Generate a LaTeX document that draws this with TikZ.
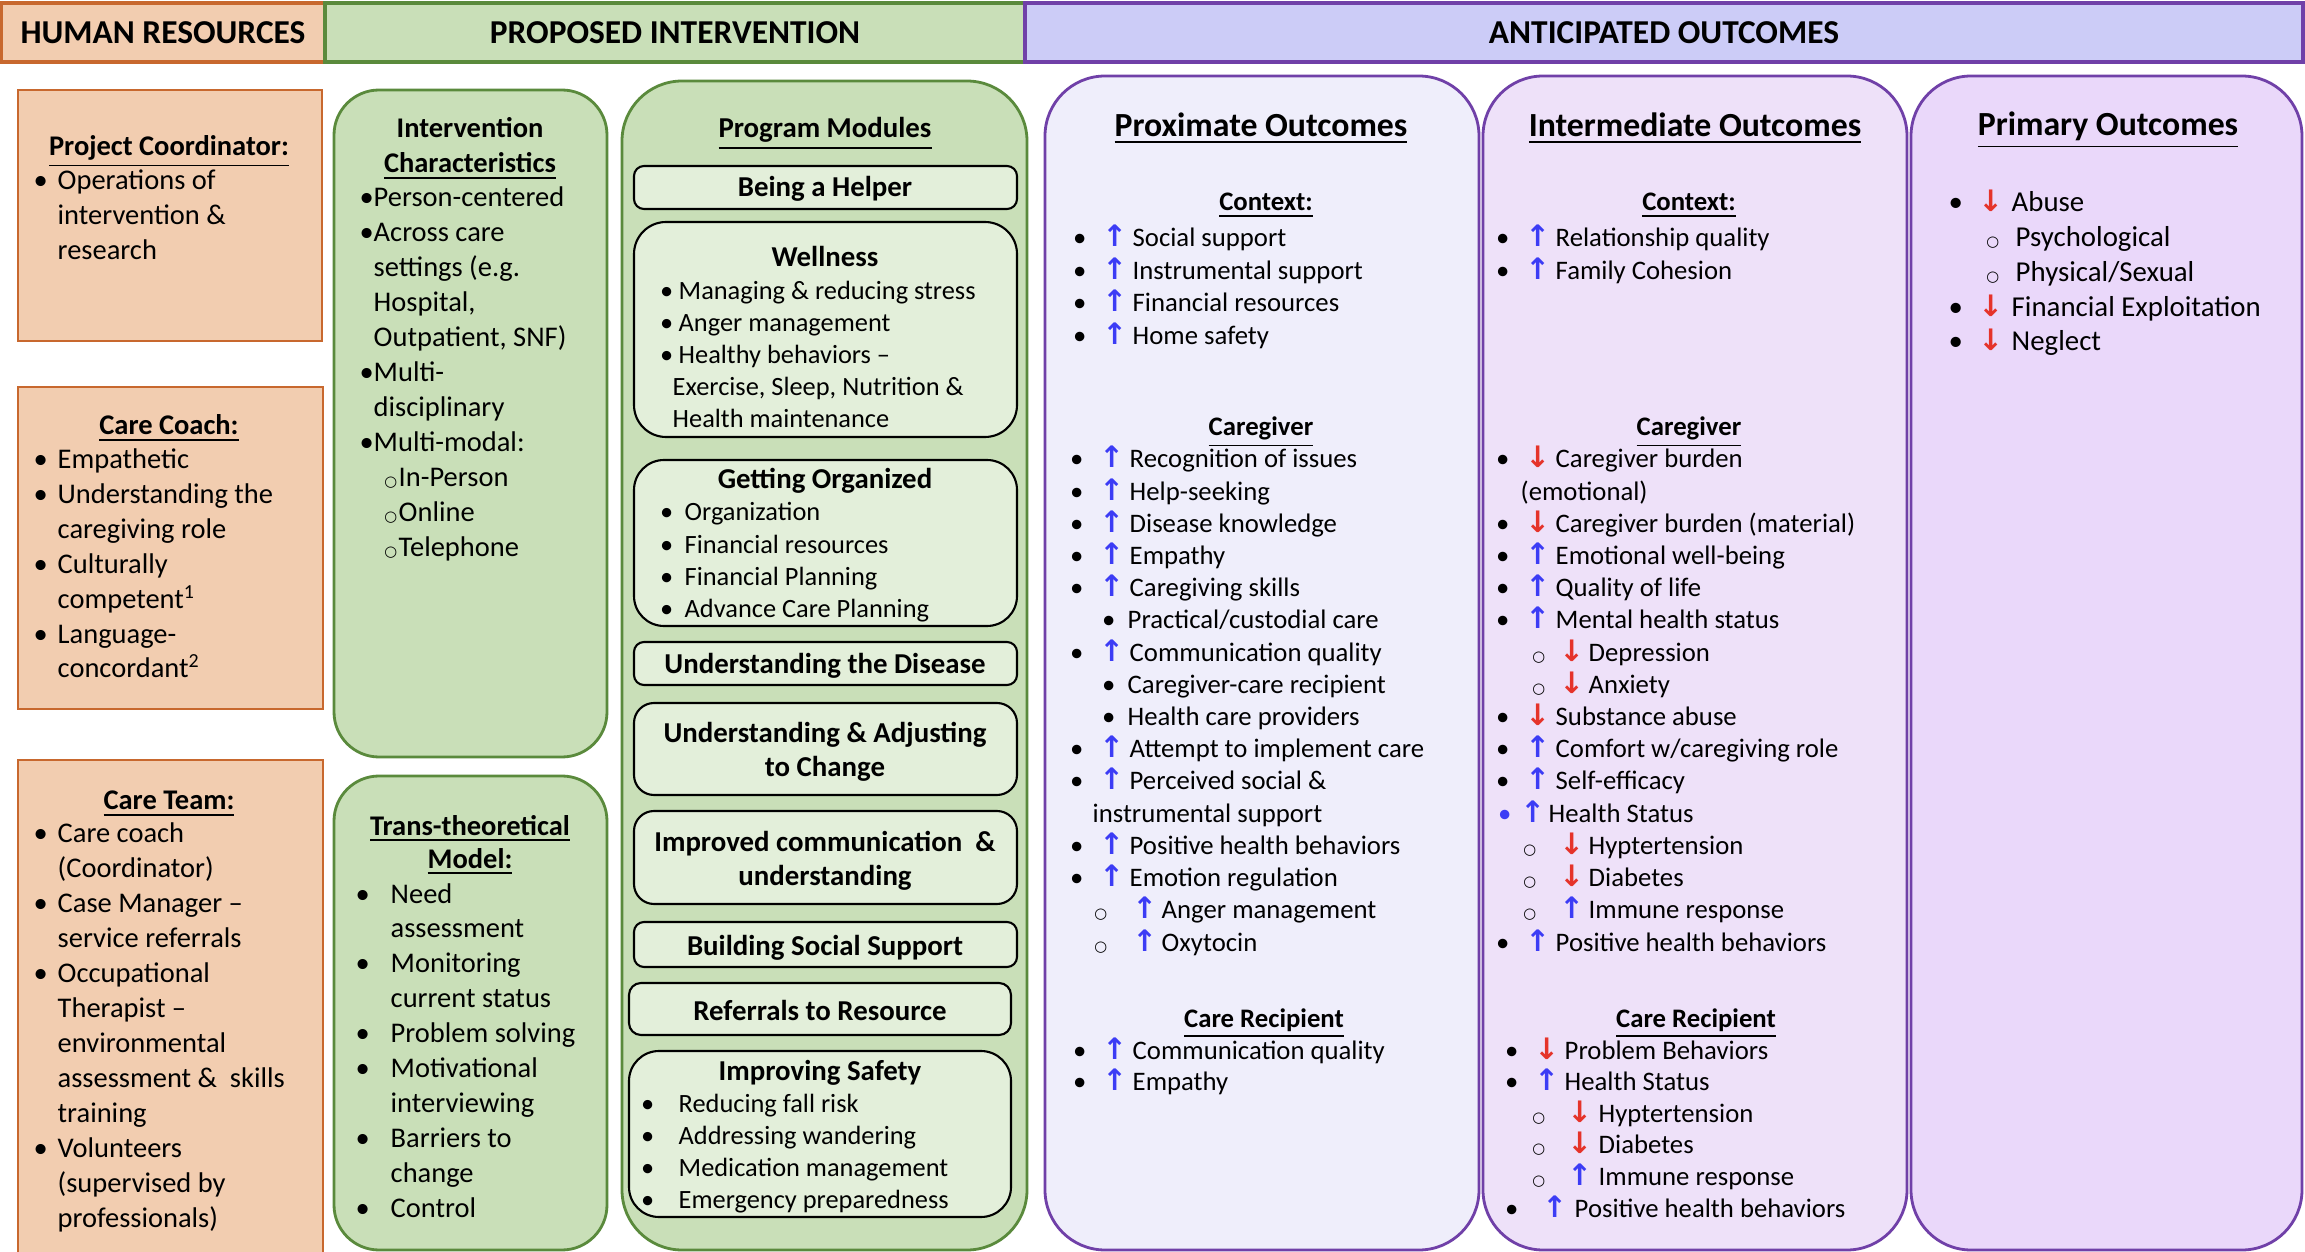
\documentclass[tikz,border=0pt]{standalone}
\usepackage{fontspec}
\setmainfont{Carlito}
\newfontfamily\arrowfont{DejaVu Sans}
\usetikzlibrary{fit}
\definecolor{peach}{HTML}{F2CDB0}
\definecolor{peachline}{HTML}{C8682E}
\definecolor{grn}{HTML}{C9DFB8}
\definecolor{grnline}{HTML}{5A8A3C}
\definecolor{grnin}{HTML}{E3EFDA}
\definecolor{lav}{HTML}{CCCCF7}
\definecolor{purp}{HTML}{7040A8}
\definecolor{proxf}{HTML}{EFEEFB}
\definecolor{interf}{HTML}{EEE1F9}
\definecolor{primf}{HTML}{EAD8FA}
\definecolor{upc}{HTML}{3C3CF5}
\definecolor{dnc}{HTML}{E5332A}
\newcommand\UA{{\arrowfont\bfseries\fontsize{8.4}{9}\selectfont\color{upc}↑}}
\newcommand\DA{{\arrowfont\bfseries\fontsize{8.4}{9}\selectfont\color{dnc}↓}}
\newcommand\oc{{\arrowfont\fontsize{4.2}{5}\selectfont ○}}
\newcommand\hb[2]{\llap{\makebox[0pt][c]{#1}\hspace{#2}}}
\newcommand\hba[4]{\llap{\makebox[0pt][c]{#1}\hspace{\dimexpr#2-#4\relax}\makebox[0pt][c]{#3}\hspace{#4}}}
\newcommand\bU{\hba{\textbullet}{0.53cm}{\UA}{0.18cm}}
\newcommand\bD{\hba{\textbullet}{0.53cm}{\DA}{0.18cm}}
\tikzset{
  hdrbox/.style={draw, line width=0.9pt, inner sep=0pt},
  hrbox/.style={draw=peachline, fill=peach, line width=0.8pt, inner sep=0pt},
  gbox/.style={draw=grnline, fill=grn, line width=0.8pt, inner sep=0pt},
  mbox/.style={draw=black, fill=grnin, line width=0.6pt, inner sep=0pt},
  obox/.style={draw=purp, line width=0.8pt, inner sep=0pt, rounded corners=0.6cm},
  hdr/.style={font=\fontsize{9.5}{11}\selectfont\bfseries, inner sep=0pt},
  hrt/.style={font=\fontsize{8.1}{9.8}\selectfont, inner sep=0pt, anchor=base west},
  hrtitle/.style={font=\fontsize{8.1}{9.8}\selectfont\bfseries, inner sep=0pt, anchor=base},
  modt/.style={font=\fontsize{8.2}{9.8}\selectfont\bfseries, inner sep=0pt, anchor=base},
  mod/.style={font=\fontsize{7.5}{9}\selectfont, inner sep=0pt, anchor=base west},
  octitle/.style={font=\fontsize{9.6}{11}\selectfont\bfseries, inner sep=0pt, anchor=base},
  ocsub/.style={font=\fontsize{7.6}{9}\selectfont\bfseries, inner sep=0pt, anchor=base},
  oc/.style={font=\fontsize{7.6}{9}\selectfont, inner sep=0pt, anchor=base west},
  pr/.style={font=\fontsize{8.2}{9.8}\selectfont, inner sep=0pt, anchor=base west}
}
\begin{document}
\begin{tikzpicture}[x=0.01cm, y=-0.01cm]
\useasboundingbox (0,0) rectangle (2305,1252);
\fill[white] (0,0) rectangle (2305,1252);

% ---------- header ----------
\node[hdrbox, draw=peachline, fill=peach, fit={(1,3) (325,62)}] (hrh) {};
\node[hdrbox, draw=grnline, fill=grn, fit={(325,3) (1025,62)}] (pih) {};
\node[hdrbox, draw=purp, fill=lav, fit={(1025,3) (2303,62)}] (aoh) {};
\node[hdr] (hrht) at (hrh.center) {HUMAN RESOURCES};
\node[hdr] (piht) at (pih.center) {PROPOSED INTERVENTION};
\node[hdr] (aoht) at (aoh.center) {ANTICIPATED OUTCOMES};

% ---------- human resources ----------
\node[hrbox, fit={(18,90) (322,341)}] (pcbox) {};
\node[hrbox, fit={(18,387) (323,709)}] (ccbox) {};
\node[hrbox, fit={(18,760) (323,1290)}] (ctbox) {};

\node[hrtitle] (pct) at (169,156) {\underline{Project Coordinator:}};
\foreach \t [count=\i] in {{\hb{\textbullet}{0.17cm}Operations of},{intervention \&},{research}}
  \node[hrt] (pc\i) at (57,{190+34.8*(\i-1)}) {\t};

\node[hrtitle] (cct) at (169,435) {\underline{Care Coach:}};
\foreach \t [count=\i] in {{\hb{\textbullet}{0.17cm}Empathetic},{\hb{\textbullet}{0.17cm}Understanding the},{caregiving role},{\hb{\textbullet}{0.17cm}Culturally},{competent\textsuperscript{1}},{\hb{\textbullet}{0.17cm}Language-},{concordant\textsuperscript{2}}}
  \node[hrt] (cc\i) at (57,{469+34.8*(\i-1)}) {\t};

\node[hrtitle] (ctt) at (169,810) {\underline{Care Team:}};
\foreach \t [count=\i] in {{\hb{\textbullet}{0.17cm}Care coach},{(Coordinator)},{\hb{\textbullet}{0.17cm}Case Manager --},{service referrals},{\hb{\textbullet}{0.17cm}Occupational},{Therapist --},{environmental},{assessment \&\ \ skills},{training},{\hb{\textbullet}{0.17cm}Volunteers},{(supervised by},{professionals)}}
  \node[hrt] (ct\i) at (57,{842+35*(\i-1)}) {\t};

% ---------- intervention ----------
\node[gbox, rounded corners=0.45cm, fit={(334,90) (607,757)}] (icbox) {};
\node[gbox, rounded corners=0.45cm, fit={(334,776) (607,1250)}] (ttbox) {};
\node[gbox, rounded corners=0.6cm, fit={(622,81) (1027,1250)}] (pmbox) {};

\node[hrtitle] (ict1) at (470,138) {Intervention};
\node[hrtitle] (ict2) at (470,173) {\underline{Characteristics}};
\foreach \t [count=\i] in {{\hb{\textbullet}{0.07cm}Person-centered},{\hb{\textbullet}{0.07cm}Across care},{settings (e.g.},{Hospital,},{Outpatient, SNF)},{\hb{\textbullet}{0.07cm}Multi-},{disciplinary},{\hb{\textbullet}{0.07cm}Multi-modal:},{\hspace{0.25cm}\hb{\oc}{0.08cm}In-Person},{\hspace{0.25cm}\hb{\oc}{0.08cm}Online},{\hspace{0.25cm}\hb{\oc}{0.08cm}Telephone}}
  \node[hrt] (ic\i) at (373,{207+35*(\i-1)}) {\t};

\node[hrtitle] (ttt1) at (470,835) {\underline{Trans-theoretical}};
\node[hrtitle] (ttt2) at (470,868) {\underline{Model:}};
\foreach \t [count=\i] in {{\hb{\textbullet}{0.28cm}Need},{assessment},{\hb{\textbullet}{0.28cm}Monitoring},{current status},{\hb{\textbullet}{0.28cm}Problem solving},{\hb{\textbullet}{0.28cm}Motivational},{interviewing},{\hb{\textbullet}{0.28cm}Barriers to},{change},{\hb{\textbullet}{0.28cm}Control}}
  \node[hrt] (tt\i) at (390,{903+34.9*(\i-1)}) {\t};

% program modules
\node[modt] (pmt) at (825,138) {\underline{Program Modules}};
\node[mbox, rounded corners=0.1cm, fit={(634,166) (1017,209)}] (m1) {};
\node[mbox, rounded corners=0.32cm, fit={(634,222) (1017,437)}] (m2) {};
\node[mbox, rounded corners=0.3cm, fit={(634,460) (1017,626)}] (m3) {};
\node[mbox, rounded corners=0.1cm, fit={(634,642) (1017,685)}] (m4) {};
\node[mbox, rounded corners=0.2cm, fit={(634,703) (1017,795)}] (m5) {};
\node[mbox, rounded corners=0.2cm, fit={(634,811) (1017,904)}] (m6) {};
\node[mbox, rounded corners=0.1cm, fit={(634,922) (1017,967)}] (m7) {};
\node[mbox, rounded corners=0.12cm, fit={(629,983) (1011,1035)}] (m8) {};
\node[mbox, rounded corners=0.3cm, fit={(629,1051) (1011,1217)}] (m9) {};

\node[modt] (m1t) at (825,197) {Being a Helper};
\node[modt] (m2t) at (825,267) {Wellness};
\foreach \t [count=\i] in {{\hb{\textbullet}{0.12cm}Managing \& reducing stress},{\hb{\textbullet}{0.12cm}Anger management},{\hb{\textbullet}{0.12cm}Healthy behaviors --},{\hspace{-0.06cm}Exercise, Sleep, Nutrition \&},{\hspace{-0.06cm}Health maintenance}}
  \node[mod] (m2l\i) at (678,{300+32*(\i-1)}) {\t};
\node[modt] (m3t) at (825,489) {Getting Organized};
\foreach \t [count=\i] in {{Organization},{Financial resources},{Financial Planning},{Advance Care Planning}}
  \node[mod] (m3l\i) at (684,{521+32.3*(\i-1)}) {\hb{\textbullet}{0.18cm}\t};
\node[modt] (m4t) at (825,674) {Understanding the Disease};
\node[modt] (m5t1) at (825,742) {Understanding \& Adjusting};
\node[modt] (m5t2) at (825,776) {to Change};
\node[modt] (m6t1) at (825,851) {Improved communication\ \ \&};
\node[modt] (m6t2) at (825,885) {understanding};
\node[modt] (m7t) at (825,955) {Building Social Support};
\node[modt] (m8t) at (820,1020) {Referrals to Resource};
\node[modt] (m9t) at (820,1080) {Improving Safety};
\foreach \t [count=\i] in {{Reducing fall risk},{Addressing wandering},{Medication management},{Emergency preparedness}}
  \node[mod] (m9l\i) at (678,{1112+32*(\i-1)}) {\hb{\textbullet}{0.31cm}\t};

% ---------- outcomes ----------
\node[obox, fill=proxf, fit={(1045,76) (1479,1250)}] (pxbox) {};
\node[obox, fill=interf, fit={(1483,76) (1907,1250)}] (inbox) {};
\node[obox, fill=primf, fit={(1911,76) (2302,1250)}] (prbox) {};

% proximate
\node[octitle] (pxt) at (1261,137) {\underline{Proximate Outcomes}};
\node[ocsub] (pxct) at (1266,211) {\underline{Context:}};
\foreach \t [count=\i] in {{Social support},{Instrumental support},{Financial resources},{Home safety}}
  \node[oc] (pxc\i) at (1132,{247+32.4*(\i-1)}) {\bU\t};
\node[ocsub] (pxgt) at (1261,436) {\underline{Caregiver}};
\foreach \t [count=\i] in {{\bU Recognition of issues},{\bU Help-seeking},{\bU Disease knowledge},{\bU Empathy},{\bU Caregiving skills},{\hspace{-0.02cm}\hb{\textbullet}{0.19cm}Practical/custodial care},{\bU Communication quality},{\hspace{-0.02cm}\hb{\textbullet}{0.19cm}Caregiver-care recipient},{\hspace{-0.02cm}\hb{\textbullet}{0.19cm}Health care providers},{\bU Attempt to implement care},{\bU Perceived social \&},{\hspace{-0.37cm}instrumental support},{\bU Positive health behaviors},{\bU Emotion regulation},{\hspace{0.32cm}\hba{\oc}{0.61cm}{\UA}{0.17cm}Anger management},{\hspace{0.32cm}\hba{\oc}{0.61cm}{\UA}{0.17cm}Oxytocin}}
  \node[oc] (pxg\i) at (1129,{468+32.2*(\i-1)}) {\t};
\node[ocsub] (pxrt) at (1264,1027) {\underline{Care Recipient}};
\foreach \t [count=\i] in {{Communication quality},{Empathy}}
  \node[oc] (pxr\i) at (1132,{1059+31.6*(\i-1)}) {\bU\t};

% intermediate
\node[octitle] (int) at (1695,137) {\underline{Intermediate Outcomes}};
\node[ocsub] (inct) at (1689,211) {\underline{Context:}};
\foreach \t [count=\i] in {{Relationship quality},{Family Cohesion}}
  \node[oc] (inc\i) at (1555,{247+32.4*(\i-1)}) {\bU\t};
\node[ocsub] (ingt) at (1689,436) {\underline{Caregiver}};
\foreach \t [count=\i] in {{\bD Caregiver burden},{\hspace{-0.35cm}(emotional)},{\bD Caregiver burden (material)},{\bU Emotional well-being},{\bU Quality of life},{\bU Mental health status},{\hspace{0.33cm}\hba{\oc}{0.5cm}{\DA}{0.17cm}Depression},{\hspace{0.33cm}\hba{\oc}{0.5cm}{\DA}{0.17cm}Anxiety},{\bD Substance abuse},{\bU Comfort w/caregiving role},{\bU Self-efficacy},{\hspace{-0.07cm}\hba{\textcolor{upc}{\textbullet}}{0.44cm}{\UA}{0.16cm}Health Status},{\hspace{0.33cm}\hba{\oc}{0.59cm}{\DA}{0.17cm}Hyptertension},{\hspace{0.33cm}\hba{\oc}{0.59cm}{\DA}{0.17cm}Diabetes},{\hspace{0.33cm}\hba{\oc}{0.59cm}{\UA}{0.17cm}Immune response},{\bU Positive health behaviors}}
  \node[oc] (ing\i) at (1555,{468+32.2*(\i-1)}) {\t};
\node[ocsub] (inrt) at (1696,1027) {\underline{Care Recipient}};
\foreach \t [count=\i] in {{\bD Problem Behaviors},{\bU Health Status},{\hspace{0.34cm}\hba{\oc}{0.6cm}{\DA}{0.19cm}Hyptertension},{\hspace{0.34cm}\hba{\oc}{0.6cm}{\DA}{0.19cm}Diabetes},{\hspace{0.34cm}\hba{\oc}{0.6cm}{\UA}{0.19cm}Immune response},{\hspace{0.1cm}\hba{\textbullet}{0.63cm}{\UA}{0.2cm}Positive health behaviors}}
  \node[oc] (inr\i) at (1564,{1059+31.6*(\i-1)}) {\t};

% primary
\node[octitle] (prt) at (2108,136) {\underline{Primary Outcomes}};
\foreach \t [count=\i] in {{\hba{\textbullet}{0.56cm}{\DA}{0.21cm}Abuse},{\hspace{0.04cm}\hb{\oc}{0.23cm}Psychological},{\hspace{0.04cm}\hb{\oc}{0.23cm}Physical/Sexual},{\hba{\textbullet}{0.56cm}{\DA}{0.21cm}Financial Exploitation},{\hba{\textbullet}{0.56cm}{\DA}{0.21cm}Neglect}}
  \node[pr] (pr\i) at (2011,{212+34.7*(\i-1)}) {\t};
\end{tikzpicture}
\end{document}
